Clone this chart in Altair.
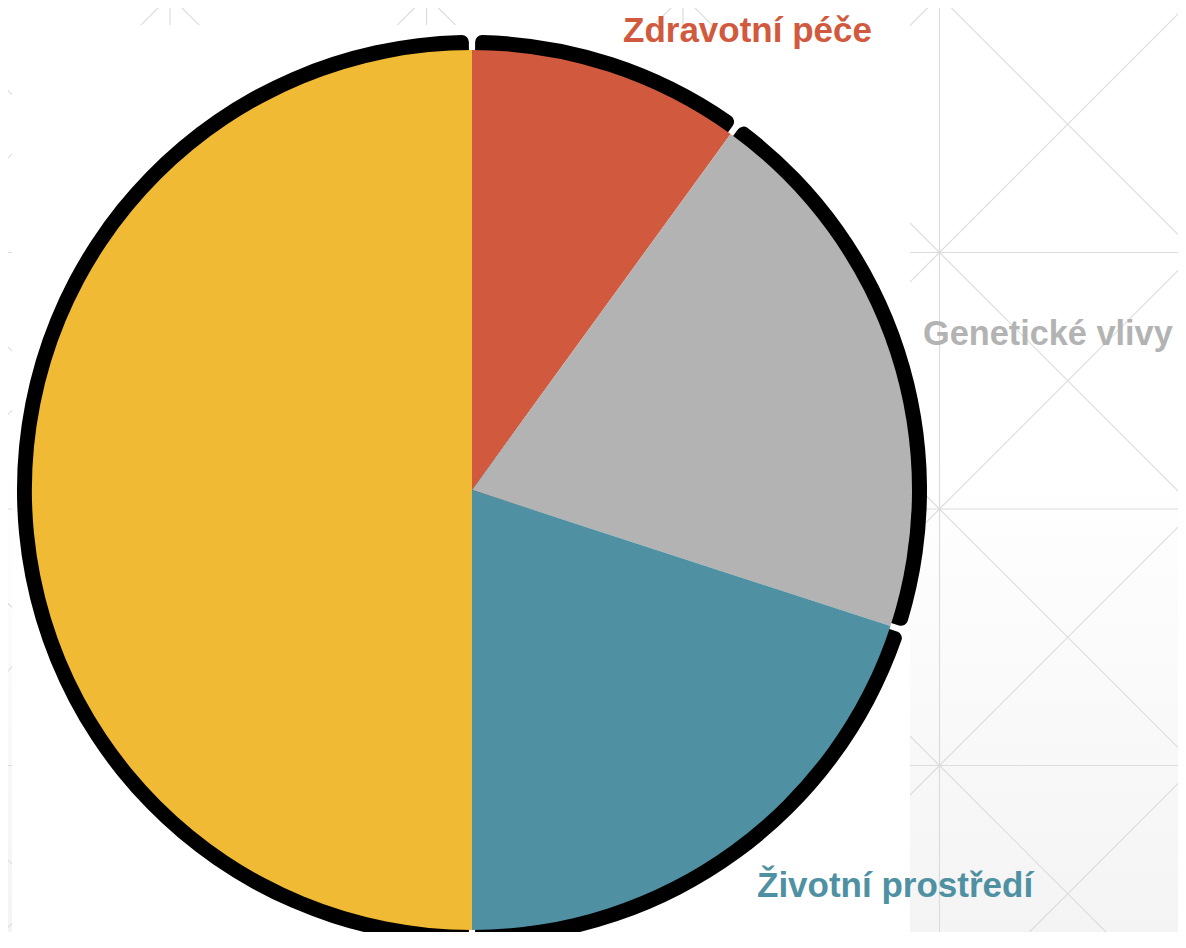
import altair as alt
import pandas as pd

# ---- data ----
categories = ["Zdravotní péče", "Genetické vlivy", "Životní prostředí", "Životní styl"]
shares = [10, 20, 20, 50]
slice_colors = ["#D15A3E", "#B3B3B3", "#4F91A2", "#F0BA34"]
show_label = [True, True, True, False]

# ---- layout (pixels, plot coordinates) ----
W, H = 1170, 924
PAGE = 8
CX, CY = 472 - PAGE, 490 - PAGE
R_PIE, R_RING = 440, 455
label_pos = {
    "Zdravotní péče": (623 - PAGE, 42 - PAGE, 35),
    "Genetické vlivy": (923 - PAGE, 345 - PAGE, 34.3),
    "Životní prostředí": (757 - PAGE, 897 - PAGE, 35),
}

df = pd.DataFrame({
    "cat": categories,
    "share": shares,
    "idx": list(range(len(categories))),
})

# ---- decorative background pattern (image coordinates) ----
s, ox, oy = 256.5, 170.0, -4.0
segs = []
for k in range(-1, 5):
    x = ox + k * s
    segs.append({"x": x, "x2": x, "y": -50, "y2": 1000})
for k in range(0, 5):
    y = oy + k * s
    segs.append({"x": -50, "x2": 1250, "y": y, "y2": y})
for m in range(-5, 6):
    c = oy - ox + m * s
    segs.append({"x": -1500, "x2": 2500, "y": -1500 + c, "y2": 2500 + c})
for m in range(-1, 10):
    c = oy + ox + m * s
    segs.append({"x": -1500, "x2": 2500, "y": c + 1500, "y2": c - 2500})
seg_df = pd.DataFrame(segs)

xs = alt.Scale(domain=[PAGE, PAGE + W], nice=False, zero=False)
ys = alt.Scale(domain=[PAGE, PAGE + H], nice=False, zero=False, reverse=True)

one = pd.DataFrame({"a": [0]})

bg = alt.Chart(one).mark_rect(
    color=alt.LinearGradient(
        gradient="linear",
        stops=[
            alt.GradientStop(color="#ffffff", offset=0),
            alt.GradientStop(color="#ffffff", offset=0.5),
            alt.GradientStop(color="#f4f4f4", offset=1),
        ],
        x1=0, x2=0, y1=0, y2=1,
    )
).encode(x=alt.value(0), x2=alt.value(W), y=alt.value(0), y2=alt.value(H))

lines = alt.Chart(seg_df).mark_rule(color="#dcdcdc", strokeWidth=1.2, clip=True).encode(
    x=alt.X("x:Q", scale=xs, axis=None),
    x2="x2:Q",
    y=alt.Y("y:Q", scale=ys, axis=None),
    y2="y2:Q",
)

white = alt.Chart(one).mark_rect(color="#ffffff").encode(
    x=alt.value(12 - PAGE), x2=alt.value(910 - PAGE),
    y=alt.value(25 - PAGE), y2=alt.value(H),
)

ring = alt.Chart(df).mark_arc(
    radius=R_RING, padAngle=0.014, cornerRadius=7, color="#000000"
).encode(
    theta=alt.Theta("share:Q", stack=True),
    order=alt.Order("idx:Q"),
    x=alt.value(CX), y=alt.value(CY),
)

pie = alt.Chart(df).mark_arc(radius=R_PIE).encode(
    theta=alt.Theta("share:Q", stack=True),
    order=alt.Order("idx:Q"),
    color=alt.Color("cat:N", scale=alt.Scale(domain=categories, range=slice_colors), legend=None),
    x=alt.value(CX), y=alt.value(CY),
)

layers = [bg, lines, white, ring, pie]
for cat, col, show in zip(categories, slice_colors, show_label):
    if not show:
        continue
    px, py, fs = label_pos[cat]
    layers.append(
        alt.Chart(pd.DataFrame({"t": [cat]})).mark_text(
            align="left", baseline="alphabetic", font="Liberation Sans",
            fontWeight="bold", fontSize=fs, color=col,
        ).encode(text="t:N", x=alt.value(px), y=alt.value(py))
    )

chart = alt.layer(*layers).properties(
    width=W, height=H, padding=0, autosize=alt.AutoSizeParams(type="none")
).configure_view(strokeWidth=0).resolve_scale(color="independent")

chart.save("out.html", embed_options={"renderer": "svg", "actions": False})
